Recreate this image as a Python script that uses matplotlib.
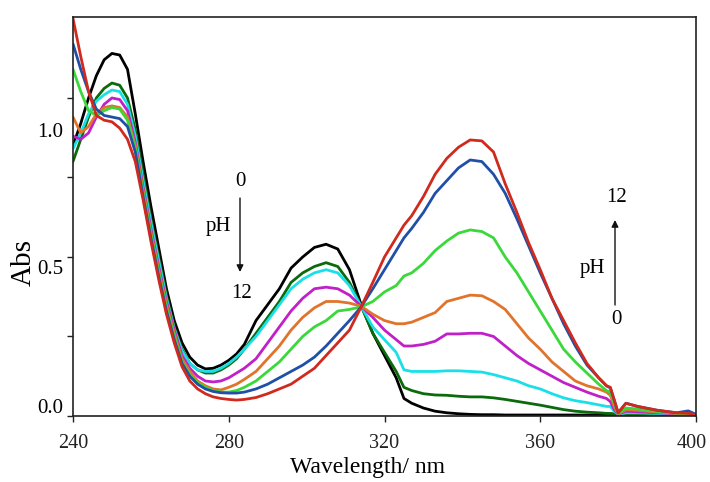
import numpy as np
import matplotlib
matplotlib.use("Agg")
import matplotlib.pyplot as plt
import matplotlib.transforms as mtransforms

plt.rcParams['font.family'] = ['Liberation Serif', 'DejaVu Serif']

# ---------------- data ----------------
wavelength = [240, 242, 244, 246, 248, 250, 252, 254, 256, 258, 260, 262, 264, 266, 268, 270, 272, 274, 276, 278, 280, 282, 284,
              287, 290, 293, 296, 299, 302, 305, 308, 311, 314, 317, 320, 323,
              325, 327,
              330, 333, 336, 339, 342, 345, 348, 351, 354, 357, 360, 363, 366, 369, 372, 375,
              377, 378, 379, 380, 382, 385, 390, 395, 398, 400]

abs_black = [0.85, 0.92, 1.00, 1.07, 1.12, 1.14, 1.135, 1.09, 0.95, 0.80, 0.66, 0.53, 0.40, 0.30, 0.23, 0.185, 0.16, 0.148, 0.15, 0.16, 0.175, 0.195, 0.225,
             0.30, 0.35, 0.40, 0.465, 0.50, 0.53, 0.54, 0.525, 0.46, 0.35, 0.26, 0.19, 0.12,
             0.055, 0.04,
             0.025, 0.015, 0.01, 0.007, 0.005, 0.004, 0.004, 0.003, 0.003, 0.003, 0.003, 0.003, 0.003, 0.003, 0.003, 0.003,
             0.003, 0.003, 0.003, 0.003, 0.003, 0.003, 0.003, 0.003, 0.003, 0.003]

abs_dkgreen = [0.80, 0.87, 0.94, 1.00, 1.03, 1.047, 1.04, 1.00, 0.90, 0.76, 0.62, 0.50, 0.38, 0.28, 0.21, 0.165, 0.145, 0.135, 0.135, 0.145, 0.16, 0.18, 0.21,
               0.26, 0.31, 0.36, 0.42, 0.45, 0.47, 0.482, 0.47, 0.42, 0.345, 0.26, 0.20, 0.14,
               0.09, 0.08,
               0.07, 0.066, 0.065, 0.062, 0.06, 0.06, 0.057, 0.052, 0.046, 0.04, 0.034, 0.027, 0.02, 0.015, 0.012, 0.01,
               0.008, 0.008, 0.007, 0.006, 0.006, 0.005, 0.005, 0.004, 0.004, 0.004]

abs_cyan = [0.84, 0.89, 0.95, 0.99, 1.01, 1.025, 1.02, 0.98, 0.88, 0.74, 0.61, 0.49, 0.37, 0.275, 0.205, 0.165, 0.145, 0.14, 0.14, 0.15, 0.165, 0.185, 0.21,
            0.25, 0.30, 0.35, 0.40, 0.43, 0.45, 0.46, 0.45, 0.41, 0.345, 0.28, 0.24, 0.20,
            0.145, 0.14,
            0.14, 0.14, 0.142, 0.142, 0.14, 0.138, 0.13, 0.12, 0.11, 0.095, 0.085, 0.07, 0.057, 0.048, 0.042, 0.035,
            0.03, 0.03, 0.015, 0.005, 0.01, 0.01, 0.008, 0.006, 0.005, 0.004]

abs_magenta = [0.88, 0.87, 0.89, 0.94, 0.98, 1.00, 0.995, 0.96, 0.86, 0.72, 0.59, 0.47, 0.36, 0.27, 0.19, 0.15, 0.125, 0.11, 0.107, 0.11, 0.12, 0.135, 0.15,
               0.18, 0.23, 0.28, 0.33, 0.37, 0.40, 0.405, 0.40, 0.38, 0.345, 0.31, 0.27, 0.24,
               0.22, 0.22,
               0.225, 0.235, 0.258, 0.258, 0.26, 0.26, 0.25, 0.22, 0.19, 0.165, 0.145, 0.125, 0.105, 0.09, 0.075, 0.062,
               0.055, 0.045, 0.02, 0.005, 0.015, 0.013, 0.01, 0.007, 0.006, 0.005]

abs_orange = [0.94, 0.89, 0.91, 0.95, 0.97, 0.975, 0.97, 0.94, 0.85, 0.71, 0.58, 0.46, 0.35, 0.26, 0.18, 0.14, 0.11, 0.095, 0.085, 0.082, 0.09, 0.10, 0.115,
              0.14, 0.18, 0.22, 0.27, 0.31, 0.34, 0.36, 0.36, 0.355, 0.345, 0.32, 0.30, 0.29,
              0.29, 0.295,
              0.31, 0.325, 0.36, 0.37, 0.38, 0.378, 0.36, 0.335, 0.29, 0.245, 0.21, 0.17, 0.14, 0.11, 0.095, 0.085,
              0.075, 0.065, 0.03, 0.005, 0.02, 0.018, 0.012, 0.008, 0.006, 0.005]

abs_ltgreen = [1.09, 1.02, 0.96, 0.945, 0.96, 0.97, 0.965, 0.93, 0.84, 0.70, 0.57, 0.45, 0.34, 0.25, 0.17, 0.13, 0.105, 0.09, 0.08, 0.075, 0.075, 0.08, 0.09,
               0.11, 0.14, 0.17, 0.21, 0.25, 0.28, 0.30, 0.33, 0.335, 0.343, 0.36, 0.39, 0.41,
               0.44, 0.45,
               0.48, 0.52, 0.55, 0.575, 0.585, 0.58, 0.56, 0.50, 0.45, 0.39, 0.33, 0.27, 0.21, 0.17, 0.135, 0.10,
               0.08, 0.075, 0.04, 0.008, 0.025, 0.022, 0.014, 0.009, 0.007, 0.005]

abs_blue = [1.17, 1.09, 1.02, 0.965, 0.945, 0.94, 0.935, 0.91, 0.83, 0.69, 0.56, 0.44, 0.33, 0.24, 0.165, 0.125, 0.10, 0.085, 0.077, 0.073, 0.072, 0.072, 0.075,
            0.085, 0.10, 0.12, 0.14, 0.16, 0.185, 0.22, 0.26, 0.30, 0.343, 0.40, 0.46, 0.52,
            0.56, 0.59,
            0.64, 0.70, 0.74, 0.78, 0.805, 0.80, 0.76, 0.70, 0.62, 0.535, 0.45, 0.37, 0.29, 0.22, 0.16, 0.12,
            0.095, 0.088, 0.05, 0.01, 0.04, 0.03, 0.018, 0.01, 0.016, 0.005]

abs_red = [1.25, 1.13, 1.02, 0.945, 0.93, 0.925, 0.905, 0.87, 0.80, 0.68, 0.55, 0.43, 0.32, 0.23, 0.155, 0.11, 0.085, 0.07, 0.06, 0.055, 0.052, 0.05, 0.052,
           0.058, 0.07, 0.085, 0.10, 0.125, 0.15, 0.19, 0.23, 0.27, 0.343, 0.42, 0.50, 0.56,
           0.60, 0.63,
           0.69, 0.76, 0.81, 0.845, 0.868, 0.865, 0.83, 0.73, 0.64, 0.545, 0.46, 0.37, 0.30, 0.23, 0.165, 0.12,
           0.095, 0.09, 0.05, 0.01, 0.04, 0.03, 0.018, 0.01, 0.008, 0.005]

series = [
    (abs_black, '#000000'),
    (abs_dkgreen, '#0b6a0b'),
    (abs_cyan, '#19e0e8'),
    (abs_magenta, '#c020c8'),
    (abs_orange, '#e0742c'),
    (abs_ltgreen, '#3ad83a'),
    (abs_blue, '#1f4fa6'),
    (abs_red, '#d02a1e'),
]

xticks = [240, 280, 320, 360, 400]
ytick_labels = ['0.0', '0.5', '1.0']
ytick_label_pos = [0.025, 0.46, 0.89]

# ---------------- figure ----------------
fig = plt.figure(figsize=(7.10, 4.82), dpi=100)
ax = fig.add_axes([0.1028, 0.137, 0.8775, 0.828])

for vals, col in series:
    ax.plot(wavelength, vals, color=col, lw=2.0, solid_joinstyle='round', solid_capstyle='round')

ax.set_xlim(240, 400)
ax.set_ylim(0, 1.255)
ax.set_xticks(xticks)
ax.set_xticklabels([str(t) for t in xticks], fontsize=14.5)
ax.set_yticks([0, 0.25, 0.5, 0.75, 1.0])
ax.set_yticklabels([])
ax.tick_params(direction='out', length=4, width=1, colors='#222222')
ax.tick_params(axis='x', pad=9)
for sp in ax.spines.values():
    sp.set_linewidth(1.2)
    sp.set_color('#222222')

# keep the last x tick label inside the canvas
last = ax.get_xticklabels()[-1]
last.set_transform(last.get_transform() + mtransforms.ScaledTranslation(-4 / 100, 0, fig.dpi_scale_trans))

ytr = ax.get_yaxis_transform()
for lab, pos in zip(ytick_labels, ytick_label_pos):
    ax.text(-0.016, pos, lab, transform=ytr, ha='right', va='center', fontsize=15)

fig.text(24 / 710, 1 - 262 / 482, 'Abs', rotation=90, ha='center', va='center', fontsize=21)
fig.text(367 / 710, 1 - 468 / 482, 'Wavelength/ nm', ha='center', va='center', fontsize=17)

# pH annotations (left: decreasing band)
fs = 15
fig.text(240 / 710, 1 - 182 / 482, '0', ha='center', va='center', fontsize=fs)
fig.text(218 / 710, 1 - 227 / 482, 'pH', ha='center', va='center', fontsize=fs)
fig.text(242 / 710, 1 - 293 / 482, '12', ha='center', va='center', fontsize=fs)
ax.annotate('', xy=(240 / 710, 1 - 272 / 482), xytext=(240 / 710, 1 - 198 / 482),
            xycoords='figure fraction', textcoords='figure fraction',
            arrowprops=dict(arrowstyle='-|>', color='#111111', lw=1.0, mutation_scale=10, shrinkA=0, shrinkB=0))

# pH annotations (right: increasing band)
fig.text(617 / 710, 1 - 198 / 482, '12', ha='center', va='center', fontsize=fs)
fig.text(592 / 710, 1 - 268 / 482, 'pH', ha='center', va='center', fontsize=fs)
fig.text(616 / 710, 1 - 320 / 482, '0', ha='center', va='center', fontsize=fs)
ax.annotate('', xy=(615 / 710, 1 - 220 / 482), xytext=(615 / 710, 1 - 305 / 482),
            xycoords='figure fraction', textcoords='figure fraction',
            arrowprops=dict(arrowstyle='-|>', color='#111111', lw=1.0, mutation_scale=10, shrinkA=0, shrinkB=0))

fig.savefig('out.png', dpi=100)
